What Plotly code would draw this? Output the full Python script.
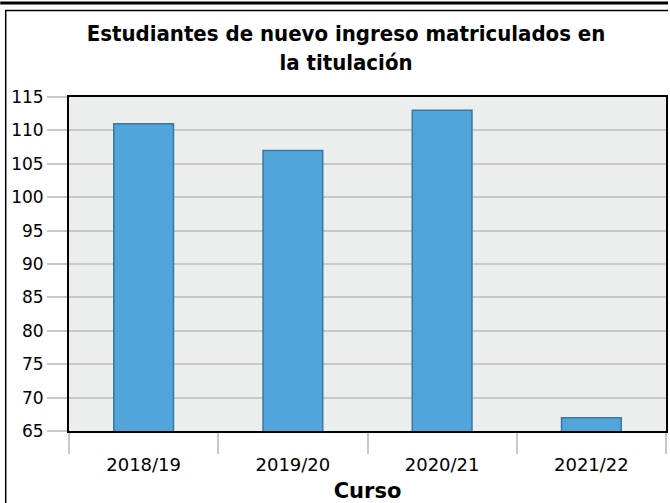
import plotly.graph_objects as go

categories = ["2018/19", "2019/20", "2020/21", "2021/22"]
values = [111, 107, 113, 67]
y_ticks = [65, 70, 75, 80, 85, 90, 95, 100, 105, 110, 115]

W, H = 670, 503
ml, mr, mt, mb = 69, 2, 97, 72
pw, ph = W - ml - mr, H - mt - mb

def px_x(x):
    return (x - ml) / pw

def px_y(y):
    return 1 - (y - mt) / ph

fig = go.Figure(go.Bar(
    x=categories, y=values, width=0.4,
    marker=dict(color="#51a5db", line=dict(color="#3a78a3", width=1.5)),
))

fig.update_layout(
    width=W, height=H,
    margin=dict(l=ml, r=mr, t=mt, b=mb),
    paper_bgcolor="white", plot_bgcolor="#eceeee",
    showlegend=False,
    font=dict(family="DejaVu Sans", size=17, color="black"),
    title=dict(
        text="<b>Estudiantes de nuevo ingreso matriculados en<br>la titulación</b>",
        x=346 / W, xanchor="center", xref="container",
        y=1 - 41 / H, yanchor="top", yref="container",
        font=dict(family="DejaVu Sans Condensed, DejaVu Sans", size=22, color="black"),
    ),
    xaxis=dict(
        tickson="boundaries", ticks="outside", ticklen=21, tickcolor="#c8c8c8", tickwidth=2,
        ticklabelstandoff=16,
        showgrid=False, showline=True, linecolor="black", linewidth=2, mirror=True,
        tickfont=dict(size=18),
        title=dict(text="<b>Curso</b>", font=dict(family="DejaVu Sans", size=21), standoff=10),
    ),
    yaxis=dict(
        range=[65, 115], tickvals=y_ticks, ticks="outside", ticklen=20,
        tickcolor="#c8c8c8", tickwidth=2,
        showgrid=True, gridcolor="#c8c8c8", gridwidth=2,
        showline=True, linecolor="black", linewidth=2, mirror=True,
        tickfont=dict(size=17), zeroline=False,
    ),
    shapes=[
        dict(type="line", xref="paper", yref="paper",
             x0=px_x(0), x1=px_x(W), y0=px_y(3), y1=px_y(3),
             line=dict(color="black", width=3), layer="above"),
        dict(type="line", xref="paper", yref="paper",
             x0=px_x(5), x1=px_x(W), y0=px_y(10.5), y1=px_y(10.5),
             line=dict(color="black", width=1.5), layer="above"),
        dict(type="line", xref="paper", yref="paper",
             x0=px_x(5.5), x1=px_x(5.5), y0=px_y(10), y1=px_y(H),
             line=dict(color="black", width=1.5), layer="above"),
    ],
)

fig.write_html(
    "out.html",
    config={"displayModeBar": False},
    post_script="document.body.style.margin='0';document.body.style.overflow='hidden';",
)
